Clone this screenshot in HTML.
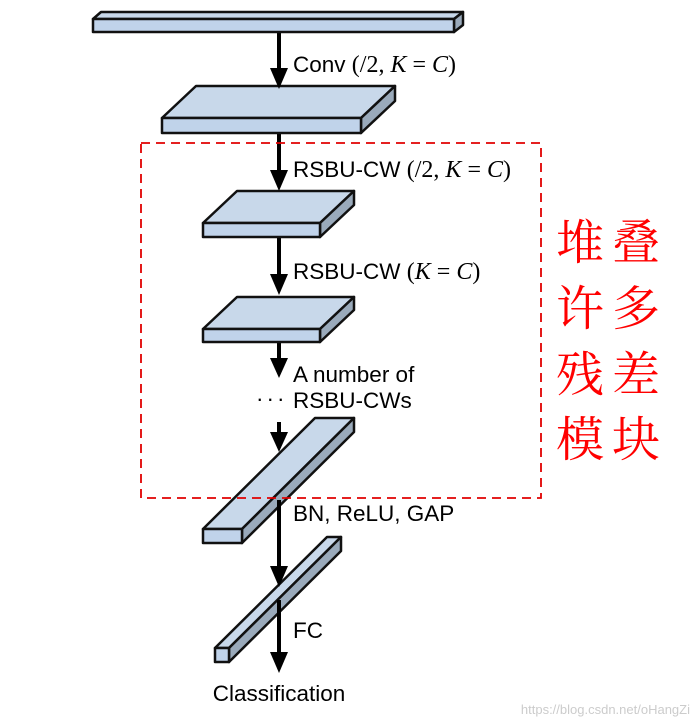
<!DOCTYPE html>
<html><head><meta charset="utf-8"><style>
html,body{margin:0;padding:0;background:#fff;}
svg{display:block;}
.t{font-family:"Liberation Sans",sans-serif;font-size:22.5px;fill:#000;}
.m{font-family:"Liberation Serif",serif;font-size:24px;}
.cj{font-family:"Noto Serif CJK SC","WenQuanYi Zen Hei",serif;font-size:48px;fill:#f00;}
</style></head><body>
<svg width="698" height="720" viewBox="0 0 698 720" xmlns="http://www.w3.org/2000/svg">
<g stroke="#000" stroke-width="4">
<line x1="279" y1="32" x2="279" y2="70"/>
<line x1="279" y1="133" x2="279" y2="172"/>
<line x1="279" y1="237" x2="279" y2="276"/>
<line x1="279" y1="342" x2="279" y2="360"/>
<line x1="279" y1="422" x2="279" y2="434"/>
<line x1="279" y1="490" x2="279" y2="568"/>
<line x1="279" y1="600" x2="279" y2="654"/>
</g>
<g stroke="#111" stroke-width="2.5" stroke-linejoin="round">
<polygon points="93,19 101,12 463,12 454,19" fill="#c8d8ea"/>
<polygon points="454,19 463,12 463,25 454,32" fill="#9aaabb"/>
<rect x="93" y="19" width="361" height="13" fill="#c0d3ea"/>
<polygon points="162,118 196,86 395,86 361,118" fill="#c8d8ea"/>
<polygon points="361,118 395,86 395,101 361,133" fill="#9aaabb"/>
<rect x="162" y="118" width="199" height="15" fill="#c0d3ea"/>
<polygon points="203,223 237,191 354,191 320,223" fill="#c8d8ea"/>
<polygon points="320,223 354,191 354,205 320,237" fill="#9aaabb"/>
<rect x="203" y="223" width="117" height="14" fill="#c0d3ea"/>
<polygon points="203,329 237,297 354,297 320,329" fill="#c8d8ea"/>
<polygon points="320,329 354,297 354,310 320,342" fill="#9aaabb"/>
<rect x="203" y="329" width="117" height="13" fill="#c0d3ea"/>
<polygon points="203,529 315,418 354,418 242,529" fill="#c8d8ea"/>
<polygon points="242,529 354,418 354,432 242,543" fill="#9aaabb"/>
<rect x="203" y="529" width="39" height="14" fill="#c0d3ea"/>
<polygon points="215,648 327,537 341,537 229,648" fill="#c8d8ea"/>
<polygon points="229,648 341,537 341,551 229,662" fill="#9aaabb"/>
<rect x="215" y="648" width="14" height="14" fill="#c0d3ea"/>
</g>
<g stroke="#000" stroke-width="4">
<line x1="279" y1="500" x2="279" y2="530"/>
<line x1="279" y1="600" x2="279" y2="620"/>
<line x1="279" y1="422" x2="279" y2="436"/>
</g>
<g fill="#000">
<polygon points="270,68 288,68 279,89"/>
<polygon points="270,170 288,170 279,191"/>
<polygon points="270,274 288,274 279,295"/>
<polygon points="270,358 288,358 279,378"/>
<polygon points="270,432 288,432 279,452"/>
<polygon points="270,566 288,566 279,587"/>
<polygon points="270,652 288,652 279,673"/>
</g>
<rect x="141" y="143" width="400" height="355" fill="none" stroke="#e00000" stroke-width="1.8" stroke-dasharray="9,6"/>
<text class="t" x="293" y="72">Conv <tspan class="m">(/2, <tspan font-style="italic">K</tspan> = <tspan font-style="italic">C</tspan>)</tspan></text>
<text class="t" x="293" y="177">RSBU-CW <tspan class="m">(/2, <tspan font-style="italic">K</tspan> = <tspan font-style="italic">C</tspan>)</tspan></text>
<text class="t" x="293" y="279">RSBU-CW <tspan class="m">(<tspan font-style="italic">K</tspan> = <tspan font-style="italic">C</tspan>)</tspan></text>
<text class="t" x="293" y="382">A number of</text>
<text class="t" x="293" y="408">RSBU-CWs</text>
<text class="t" x="256" y="406" letter-spacing="3">···</text>
<text class="t" x="293" y="521">BN, ReLU, GAP</text>
<text class="t" x="293" y="638">FC</text>
<text class="t" x="279" y="701" text-anchor="middle">Classification</text>
<g class="cj">
<text x="556" y="259">堆</text><text x="612" y="259">叠</text>
<text x="556" y="325">许</text><text x="612" y="325">多</text>
<text x="556" y="391">残</text><text x="612" y="391">差</text>
<text x="556" y="456">模</text><text x="612" y="456">块</text>
</g>
<text x="690" y="714" text-anchor="end" font-family="Liberation Sans,sans-serif" font-size="13" fill="#ccc">https://blog.csdn.net/oHangZi</text>
</svg>
</body></html>
